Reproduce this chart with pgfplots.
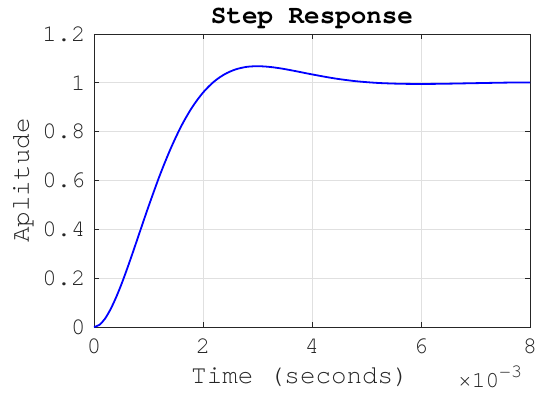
\documentclass[border=0pt]{standalone}
\usepackage{fontspec}
\setmainfont{TeX Gyre Cursor}
\usepackage{pgfplots}
\pgfplotsset{compat=1.18}
\definecolor{axgray}{gray}{0.15}
\definecolor{gridgray}{gray}{0.88}
\begin{document}
\begin{tikzpicture}[x=1bp,y=1bp]
\begin{axis}[
  scale only axis,
  width=436bp, height=293bp,
  xmin=0, xmax=8, ymin=0, ymax=1.2,
  xtick={0,2,4,6,8},
  ytick={0,0.2,0.4,0.6,0.8,1,1.2},
  yticklabels={0,0.2,0.4,0.6,0.8,1,1.2},
  xticklabels={0,2,4,6,8},
  grid=major,
  major grid style={gridgray, line width=0.7bp},
  axis line style={axgray, line width=0.8bp},
  tick style={axgray, line width=0.8bp},
  major tick length=5bp,
  tick align=inside,
  ticklabel style={font=\fontsize{24}{26}\selectfont, text=axgray},
  xticklabel style={anchor=base, yshift=-26bp},
  yticklabel style={anchor=east, xshift=-5bp},
  xlabel={Time (seconds)},
  ylabel={Aplitude},
  label style={font=\fontsize{26}{28}\selectfont, text=axgray},
  xlabel style={at={(axis description cs:0.4725,0)}, anchor=base, yshift=-56bp},
  ylabel style={at={(axis description cs:0,0.5)}, anchor=base, yshift=65bp},
  title={Step Response},
  title style={font=\bfseries\fontsize{26}{28}\selectfont, text=black, at={(axis description cs:0.5,1)}, anchor=base, yshift=5bp},
  clip=true,
]
\addplot[blue, line width=1.8bp, smooth] coordinates {
(0,0) (0.1,0.0089) (0.2,0.0335) (0.3,0.0711) (0.4,0.1186) (0.5,0.1732)
(0.6,0.2336) (0.7,0.2973) (0.8,0.3627) (0.9,0.4285) (1.0,0.4933)
(1.2,0.6169) (1.4,0.7272) (1.6,0.8222) (1.8,0.8996) (2.0,0.9599)
(2.2,1.0047) (2.4,1.0356) (2.6,1.0551) (2.8,1.0653) (3.0,1.0681)
(3.2,1.0657) (3.4,1.0600) (3.6,1.0522) (3.8,1.0434) (4.0,1.0346)
(4.4,1.0186) (4.8,1.0068) (5.2,0.9997) (5.6,0.9963) (6.0,0.9954)
(6.4,0.9962) (6.8,0.9978) (7.2,0.9995) (7.6,1.0010) (8.0,1.0015)
};
\end{axis}
\node[anchor=base west, inner sep=0pt, text=axgray, font=\fontsize{23}{26}\selectfont] at (364bp,-60bp) {×10\raisebox{10bp}{\fontsize{19}{22}\selectfont −3}};
\pgfresetboundingbox
\path[use as bounding box] (-94bp,-66bp) rectangle (446bp,327bp);
\end{tikzpicture}
\end{document}
